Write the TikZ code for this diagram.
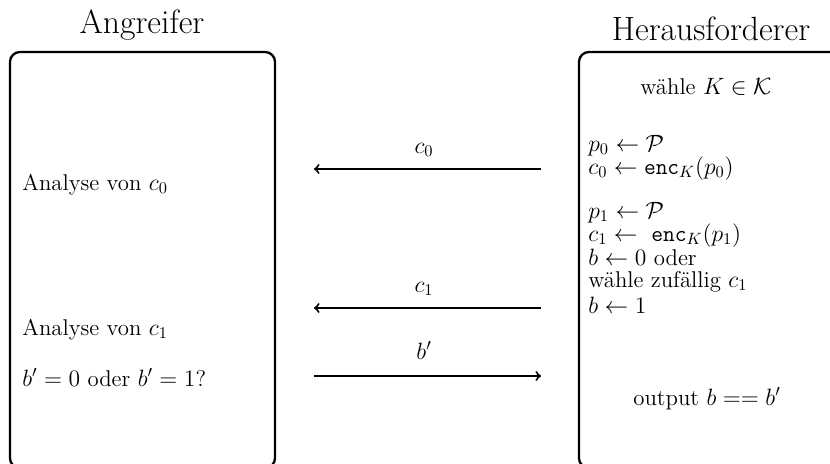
\documentclass[tikz,border=0pt]{standalone}
\usepackage{fontspec}
\usepackage{amsmath,amssymb}
\begin{document}
\begin{tikzpicture}[x=0.61pt,y=-0.61pt,
  every node/.append style={font=\fontsize{13.9}{16.5}\selectfont},
  party/.style={draw,line width=1.4pt,rounded corners=6pt},
  title/.style={font=\fontsize{20.5}{25}\selectfont,anchor=base},
  step line/.style={anchor=base west,inner sep=0pt,text height=8pt,text depth=2pt},
  centered line/.style={anchor=base,inner sep=0pt},
  msg/.style={line width=1.2pt,->},
  msglabel/.style={anchor=base,inner sep=0pt}]
\useasboundingbox (0,0) rectangle (830,463);
\begin{scope}
\clip (0,0) rectangle (830,463);
% the two parties
\draw[party] (10,52) rectangle (275,468);
\draw[party] (579,52) rectangle (846,468);
\end{scope}
\node[title] (att) at (142,33) {Angreifer};
\node[title] (chal) at (711,40) {Herausforderer};

% challenger's steps
\node[centered line] (key) at (706,94) {wähle $K \in \mathcal{K}$};
\node[step line] (p0) at (588,151) {$p_0 \leftarrow \mathcal{P}$};
\node[step line] (c0) at (588,174) {$c_0 \leftarrow \mathtt{enc}_K(p_0)$};
\node[step line] (p1) at (588,218) {$p_1 \leftarrow \mathcal{P}$};
\node[step line] (c1) at (588,241) {$c_1 \leftarrow\ \mathtt{enc}_K(p_1)$};
\node[step line] (b0) at (588,265) {$b \leftarrow 0$ oder};
\node[step line] (rnd) at (588,287) {wähle zufällig $c_1$};
\node[step line] (b1) at (588,313) {$b \leftarrow 1$};
\node[centered line] (out) at (707,405) {output $b == b'$};

% attacker's steps
\node[step line] (a0) at (22,190) {Analyse von $c_0$};
\node[step line] (a1) at (22,335) {Analyse von $c_1$};
\node[step line] (guess) at (22,386) {$b' = 0$ oder $b' = 1$?};

% messages
\coordinate (m0s) at (541,169); \coordinate (m0e) at (314,169);
\coordinate (m1s) at (541,308); \coordinate (m1e) at (314,308);
\coordinate (m2s) at (314,376); \coordinate (m2e) at (541,376);
\draw[msg] (m0s) -- (m0e);
\draw[msg] (m1s) -- (m1e);
\draw[msg] (m2s) -- (m2e);
\node[msglabel] (l0) at (424,153) {$c_0$};
\node[msglabel] (l1) at (424,292) {$c_1$};
\node[msglabel] (l2) at (424,359) {$b'$};
\end{tikzpicture}
\end{document}
